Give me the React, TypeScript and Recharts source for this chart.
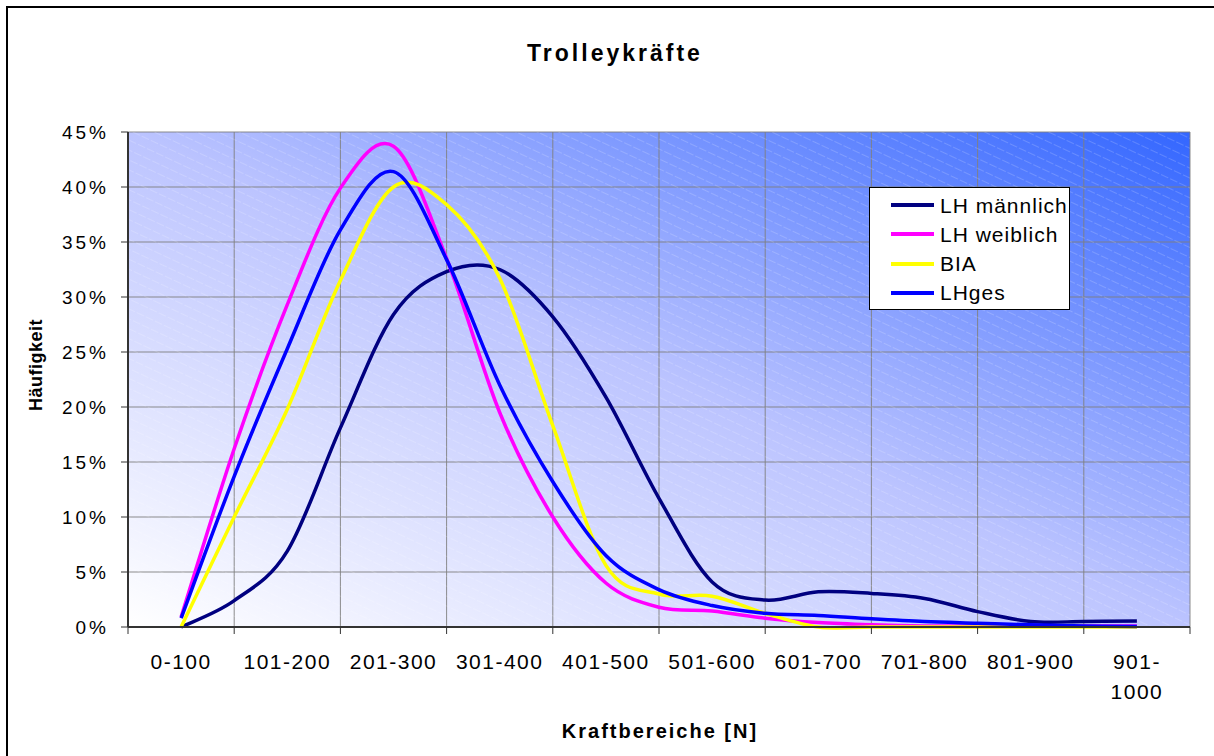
import { LineChart, Line, XAxis, YAxis, CartesianGrid, ReferenceArea, Legend } from 'recharts';

const categories = ['0-100', '101-200', '201-300', '301-400', '401-500', '501-600', '601-700', '701-800', '801-900', '901-1000'];

// points sit every half category (centre of 0-100 = 0.5)
const positions = [0.5, 1, 1.5, 2, 2.5, 3, 3.5, 4, 4.5, 5, 5.5, 6, 6.5, 7, 7.5, 8, 8.5, 9, 9.5];

const lhMaennlich = [0, 2.4, 6.9, 18.1, 28.4, 32.3, 32.5, 28.2, 20.9, 11.7, 4.1, 2.45, 3.2, 3.05, 2.6, 1.4, 0.5, 0.5, 0.55];
const lhWeiblich = [0.9, 16.2, 29.3, 39.9, 43.7, 33.5, 19.5, 10.0, 4.0, 1.8, 1.45, 0.8, 0.4, 0.2, 0.1, 0.1, 0.1, 0.1, 0.1];
const bia = [0, 10.0, 19.8, 31.5, 40.0, 38.4, 31.7, 18.3, 5.6, 3.0, 2.8, 1.25, 0, 0, 0, 0, 0, 0, 0];
const lhGes = [0.8, 13.7, 25.3, 36.1, 41.4, 33.4, 22.0, 13.2, 6.5, 3.4, 1.95, 1.25, 1.05, 0.75, 0.5, 0.35, 0.2, 0.1, 0.05];

const yTicks = [0, 5, 10, 15, 20, 25, 30, 35, 40, 45];
const xTicks = [0, 1, 2, 3, 4, 5, 6, 7, 8, 9, 10];

const series = [
  { key: 'lhMaennlich', name: 'LH männlich', color: '#000080' },
  { key: 'lhWeiblich', name: 'LH weiblich', color: '#FF00FF' },
  { key: 'bia', name: 'BIA', color: '#FFFF00' },
  { key: 'lhGes', name: 'LHges', color: '#0000FF' },
];

const data = positions.map((pos, i) => ({
  pos,
  lhMaennlich: lhMaennlich[i],
  lhWeiblich: lhWeiblich[i],
  bia: bia[i],
  lhGes: lhGes[i],
}));

const FONT = '"Liberation Sans", Arial, Helvetica, sans-serif';
const PLOT_W = 1062;
const HALF_CAT = PLOT_W / categories.length / 2;

// Excel-like smoothing (Catmull-Rom through the points)
function excelSmooth(context: any) {
  let pts: number[][] = [];
  return {
    areaStart() {},
    areaEnd() {},
    lineStart() {
      pts = [];
    },
    point(x: number, y: number) {
      pts.push([+x, +y]);
    },
    lineEnd() {
      if (!pts.length) return;
      context.moveTo(pts[0][0], pts[0][1]);
      for (let i = 0; i < pts.length - 1; i++) {
        const p0 = pts[i - 1] || pts[i];
        const p1 = pts[i];
        const p2 = pts[i + 1];
        const p3 = pts[i + 2] || p2;
        context.bezierCurveTo(
          p1[0] + (p2[0] - p0[0]) / 6,
          p1[1] + (p2[1] - p0[1]) / 6,
          p2[0] - (p3[0] - p1[0]) / 6,
          p2[1] - (p3[1] - p1[1]) / 6,
          p2[0],
          p2[1]
        );
      }
    },
  };
}

const XTick = ({ x, y, payload }: any) => {
  const label = categories[payload.value];
  if (!label) return null;
  const lines = label.length > 7 ? [label.slice(0, label.indexOf('-') + 1), label.slice(label.indexOf('-') + 1)] : [label];
  return (
    <text x={x + HALF_CAT} y={y + 33} textAnchor="middle" fontFamily={FONT} fontSize={21} letterSpacing={1.5} fill="#000">
      {lines.map((l, i) => (
        <tspan key={i} x={x + HALF_CAT} dy={i === 0 ? 0 : 30}>
          {l}
        </tspan>
      ))}
    </text>
  );
};

const YTick = ({ x, y, payload }: any) => (
  <text x={x} y={y} dy="0.355em" textAnchor="end" fontFamily={FONT} fontSize={19} letterSpacing={3} fill="#000">
    {payload.value}%
  </text>
);

const renderLegend = () => (
  <div
    style={{
      width: 199,
      height: 121,
      background: '#fff',
      border: '1px solid #000',
      position: 'relative',
      fontFamily: FONT,
      fontSize: 21,
      letterSpacing: 1,
      color: '#000',
    }}
  >
    {series.map((s, i) => (
      <div
        key={s.key}
        style={{ position: 'absolute', left: 21, top: 2.5 + i * 29.3, height: 29, display: 'flex', alignItems: 'center' }}
      >
        <span style={{ display: 'inline-block', width: 43, height: 4, background: s.color, marginRight: 6 }} />
        <span style={{ lineHeight: '29px', whiteSpace: 'nowrap' }}>{s.name}</span>
      </div>
    ))}
  </div>
);

export default function App() {
  return (
    <div style={{ position: 'fixed', left: 0, top: 0, width: 1214, height: 756, overflow: 'hidden', background: '#fff' }}>
      <div style={{ position: 'absolute', left: 6, top: 6, width: 1400, height: 900, border: '2px solid #000' }} />
      <LineChart width={1214} height={756} data={data} margin={{ top: 132, right: 24, bottom: 89, left: 68 }}>
        <defs>
          <linearGradient id="plotBg" x1="0" y1="1" x2="1" y2="0">
            <stop offset="0" stopColor="#ffffff" />
            <stop offset="0.5" stopColor="#bcc4ff" />
            <stop offset="1" stopColor="#3366ff" />
          </linearGradient>
          <pattern id="hatch" width="10" height="9" patternUnits="userSpaceOnUse" patternTransform="rotate(25)">
            <line x1="0" y1="0" x2="10" y2="0" stroke="#ffffff" strokeOpacity={0.35} strokeWidth={1} strokeDasharray="4 2" />
          </pattern>
        </defs>
        <CartesianGrid stroke="#808080" strokeOpacity={0.9} fill="url(#plotBg)" fillOpacity={1} />
        <ReferenceArea x1={0} x2={10} y1={0} y2={45} fill="url(#hatch)" fillOpacity={1} stroke="none" />
        <XAxis
          type="number"
          dataKey="pos"
          domain={[0, 10]}
          ticks={xTicks}
          interval={0}
          height={40}
          tick={<XTick />}
          tickSize={7}
          axisLine={{ stroke: '#333', strokeWidth: 2 }}
          tickLine={{ stroke: '#333' }}
        />
        <YAxis
          domain={[0, 45]}
          ticks={yTicks}
          interval={0}
          width={60}
          tick={<YTick />}
          tickSize={7}
          tickMargin={12}
          axisLine={{ stroke: '#333', strokeWidth: 2 }}
          tickLine={{ stroke: '#333' }}
        />
        <Legend
          layout="vertical"
          align="center"
          verticalAlign="middle"
          content={renderLegend}
          wrapperStyle={{ left: 869, top: 187, width: 201, height: 123 }}
        />
        {series.map((s) => (
          <Line
            key={s.key}
            dataKey={s.key}
            name={s.name}
            type={excelSmooth as any}
            stroke={s.color}
            strokeWidth={3.5}
            dot={false}
            activeDot={false}
            isAnimationActive={false}
          />
        ))}
      </LineChart>
      <svg width={1214} height={756} style={{ position: 'absolute', left: 0, top: 0, pointerEvents: 'none' }}>
        <text x={615} y={61} textAnchor="middle" fontFamily={FONT} fontSize={23} fontWeight="bold" letterSpacing={3} fill="#000">
          Trolleykräfte
        </text>
        <text x={660} y={738} textAnchor="middle" fontFamily={FONT} fontSize={20} fontWeight="bold" letterSpacing={2} fill="#000">
          Kraftbereiche [N]
        </text>
        <text transform="translate(42,365) rotate(-90)" textAnchor="middle" fontFamily={FONT} fontSize={18} fontWeight="bold" letterSpacing={0.5} fill="#000">
          Häufigkeit
        </text>
      </svg>
    </div>
  );
}
